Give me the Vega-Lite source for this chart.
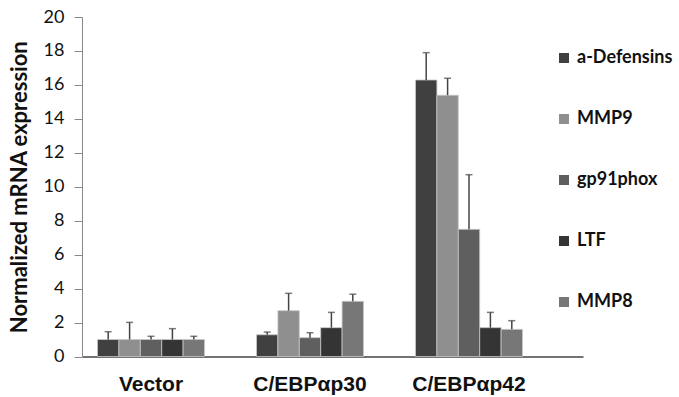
{
  "$schema": "https://vega.github.io/schema/vega-lite/v6.json",
  "width": 501,
  "height": 339.5,
  "autosize": "none",
  "padding": {"left": 82, "top": 17, "right": 96, "bottom": 40.5},
  "background": "white",
  "config": {
    "view": {"stroke": null},
    "font": "Lato",
    "axisY": {
      "tickCount": 10,
      "labelOverlap": false,
      "grid": false,
      "domainColor": "#888888",
      "tickColor": "#888888",
      "tickSize": 8,
      "labelFontSize": 18,
      "labelColor": "#111111",
      "labelPadding": 10,
      "titleFontSize": 22,
      "titleFontWeight": "bold",
      "titleColor": "#111111",
      "titlePadding": 12
    }
  },
  "data": {
    "values": [
      {"group": "Vector", "gene": "a-Defensins", "value": 1.0, "top": 1.46},
      {"group": "Vector", "gene": "MMP9", "value": 1.0, "top": 2.01},
      {"group": "Vector", "gene": "gp91phox", "value": 1.0, "top": 1.19},
      {"group": "Vector", "gene": "LTF", "value": 1.0, "top": 1.64},
      {"group": "Vector", "gene": "MMP8", "value": 1.0, "top": 1.19},
      {"group": "C/EBPαp30", "gene": "a-Defensins", "value": 1.28, "top": 1.44},
      {"group": "C/EBPαp30", "gene": "MMP9", "value": 2.7, "top": 3.72},
      {"group": "C/EBPαp30", "gene": "gp91phox", "value": 1.11, "top": 1.4},
      {"group": "C/EBPαp30", "gene": "LTF", "value": 1.7, "top": 2.6},
      {"group": "C/EBPαp30", "gene": "MMP8", "value": 3.25, "top": 3.67},
      {"group": "C/EBPαp42", "gene": "a-Defensins", "value": 16.29, "top": 17.9},
      {"group": "C/EBPαp42", "gene": "MMP9", "value": 15.39, "top": 16.39},
      {"group": "C/EBPαp42", "gene": "gp91phox", "value": 7.49, "top": 10.71},
      {"group": "C/EBPαp42", "gene": "LTF", "value": 1.7, "top": 2.6},
      {"group": "C/EBPαp42", "gene": "MMP8", "value": 1.6, "top": 2.11}
    ]
  },
  "encoding": {
    "x": {
      "field": "group",
      "type": "nominal",
      "sort": ["Vector", "C/EBPαp30", "C/EBPαp42"],
      "scale": {"paddingInner": 0.327, "paddingOuter": 0.239, "align": 0.204},
      "axis": {
        "title": null,
        "labelAngle": 0,
        "ticks": false,
        "domainColor": "#444444",
        "domainWidth": 1.5,
        "labelFont": "Liberation Sans",
        "labelFontWeight": "bold",
        "labelFontSize": 21,
        "labelColor": "#111111",
        "labelPadding": 17
      }
    },
    "xOffset": {
      "field": "gene",
      "type": "nominal",
      "sort": ["a-Defensins", "MMP9", "gp91phox", "LTF", "MMP8"],
      "scale": {"paddingInner": 0, "paddingOuter": 0}
    }
  },
  "layer": [
    {
      "mark": {"type": "bar", "stroke": "#c8c8c8", "strokeWidth": 0.8},
      "encoding": {
        "y": {
          "field": "value",
          "type": "quantitative",
          "scale": {"domain": [0, 20], "nice": false},
          "axis": {"title": "Normalized mRNA expression", "tickCount": 10}
        },
        "color": {
          "field": "gene",
          "type": "nominal",
          "sort": ["a-Defensins", "MMP9", "gp91phox", "LTF", "MMP8"],
          "scale": {
            "domain": ["a-Defensins", "MMP9", "gp91phox", "LTF", "MMP8"],
            "range": ["#404040", "#8f8f8f", "#5f5f5f", "#343434", "#777777"]
          },
          "legend": {
            "title": null,
            "orient": "none",
            "legendX": 473,
            "legendY": 32,
            "symbolType": "square",
            "symbolSize": 100,
            "symbolStrokeWidth": 0,
            "labelFontSize": 18,
            "labelFontWeight": "bold",
            "labelColor": "#111111",
            "labelOffset": 4,
            "rowPadding": 43
          }
        }
      }
    },
    {
      "mark": {"type": "rule", "color": "#444444", "strokeWidth": 1.5},
      "encoding": {
        "y": {"field": "value", "type": "quantitative", "axis": {"tickCount": 10}},
        "y2": {"field": "top"}
      }
    },
    {
      "mark": {"type": "tick", "color": "#444444", "thickness": 1.5, "size": 7},
      "encoding": {
        "y": {"field": "top", "type": "quantitative", "axis": {"tickCount": 10}}
      }
    }
  ]
}
